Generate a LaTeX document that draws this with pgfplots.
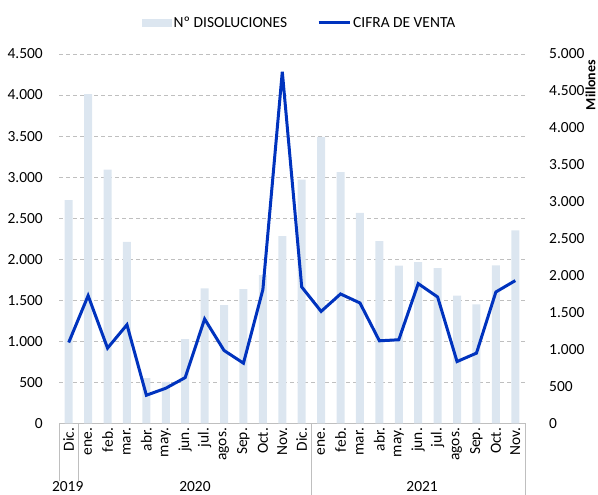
\documentclass[border=0pt]{standalone}
\usepackage{fontspec}
\setmainfont{Carlito}
\usepackage{pgfplots}
\pgfplotsset{compat=1.18}
\definecolor{barc}{RGB}{220,230,240}
\definecolor{linec}{RGB}{0,51,190}
\definecolor{gridc}{RGB}{191,191,191}
\newcommand{\tf}{\fontsize{15.5}{18}\selectfont}
\begin{document}
\begin{tikzpicture}
\path[use as bounding box] (0,0) rectangle (598bp,495bp);
\begin{axis}[
  at={(59bp,71.7bp)}, anchor=south west,
  width=466bp, height=369.3bp, scale only axis,
  xmin=-0.5, xmax=23.5, ymin=0, ymax=4500,
  clip=false,
  separate axis lines,
  axis x line*=bottom, axis y line*=left,
  x axis line style={gridc, line width=0.9bp, -},
  y axis line style={draw=none},
  ytick={0,500,...,4500},
  xtick={0,...,23},
  xticklabels={Dic.,ene.,feb.,mar.,abr.,may.,jun.,jul.,agos.,Sep.,Oct.,Nov.,Dic.,ene.,feb.,mar.,abr.,may.,jun.,jul.,agos.,Sep.,Oct.,Nov.},
  xticklabel style={yshift=-4.5bp, rotate=90, anchor=east, inner sep=0pt, font=\tf},
  yticklabel style={anchor=east, inner sep=0pt, xshift=-16bp, font=\tf},
  /pgf/number format/1000 sep={.},
  /pgf/number format/assume math mode=true,
  major tick length=0,
  ymajorgrids,
  grid style={gridc, dash pattern=on 4bp off 3bp, line width=0.9bp},
  ybar, bar width=8bp,
  legend columns=2,
  legend style={at={(0.516,1.084)}, anchor=center, draw=none, fill=none,
    font=\tf, /tikz/every even column/.append style={column sep=28bp}},
]
\addplot[fill=barc, draw=none,
  legend image code/.code={\fill[barc] (0bp,-3.8bp) rectangle (30bp,3.8bp);}]
  coordinates {(0,2720) (1,4010) (2,3090) (3,2210) (4,550) (5,505) (6,1025) (7,1645)
  (8,1440) (9,1635) (10,1805) (11,2280) (12,2970) (13,3490) (14,3060) (15,2565)
  (16,2220) (17,1920) (18,1965) (19,1890) (20,1555) (21,1450) (22,1925) (23,2350)};
\addlegendentry{Nº DISOLUCIONES}
\addlegendimage{legend image code/.code={\draw[linec, line width=3bp] (0bp,0bp) -- (31bp,0bp);}}
\addlegendentry{CIFRA DE VENTA}
\draw[gridc, line width=0.9bp] (axis cs:-0.5,0) -- ++(0bp,-58bp);
\draw[gridc, line width=0.9bp] (axis cs:0.5,0) -- ++(0bp,-58bp);
\draw[gridc, line width=0.9bp] (axis cs:12.5,0) -- ++(0bp,-75bp);
\draw[gridc, line width=0.9bp] (axis cs:23.5,0) -- ++(0bp,-75bp);
\node[font=\tf] at ([yshift=-63.5bp]axis cs:-0.05,0) {2019};
\node[font=\tf] at ([yshift=-63.5bp]axis cs:6.5,0) {2020};
\node[font=\tf] at ([yshift=-63.5bp]axis cs:18.2,0) {2021};
\end{axis}
\begin{axis}[
  at={(59bp,71.7bp)}, anchor=south west,
  width=466bp, height=369.3bp, scale only axis,
  xmin=-0.5, xmax=23.5, ymin=0, ymax=5000,
  axis x line=none, axis y line*=right,
  y axis line style={draw=none},
  xtick=\empty,
  ytick={0,500,...,5000},
  yticklabel style={anchor=west, inner sep=0pt, xshift=24bp, font=\tf},
  /pgf/number format/1000 sep={.},
  /pgf/number format/assume math mode=true,
  major tick length=0,
  clip=false,
]
\addplot[linec, line width=3bp, mark=none]
  coordinates {(0,1094) (1,1728) (2,1018) (3,1334) (4,380) (5,475) (6,619) (7,1412)
  (8,986) (9,814) (10,1810) (11,4760) (12,1846) (13,1515) (14,1751) (15,1629)
  (16,1117) (17,1131) (18,1891) (19,1710) (20,836) (21,950) (22,1778) (23,1932)};
\end{axis}
\node[rotate=90, font=\bfseries\fontsize{14}{16}\selectfont] at (590.5bp,410bp) {Millones};
\end{tikzpicture}
\end{document}
